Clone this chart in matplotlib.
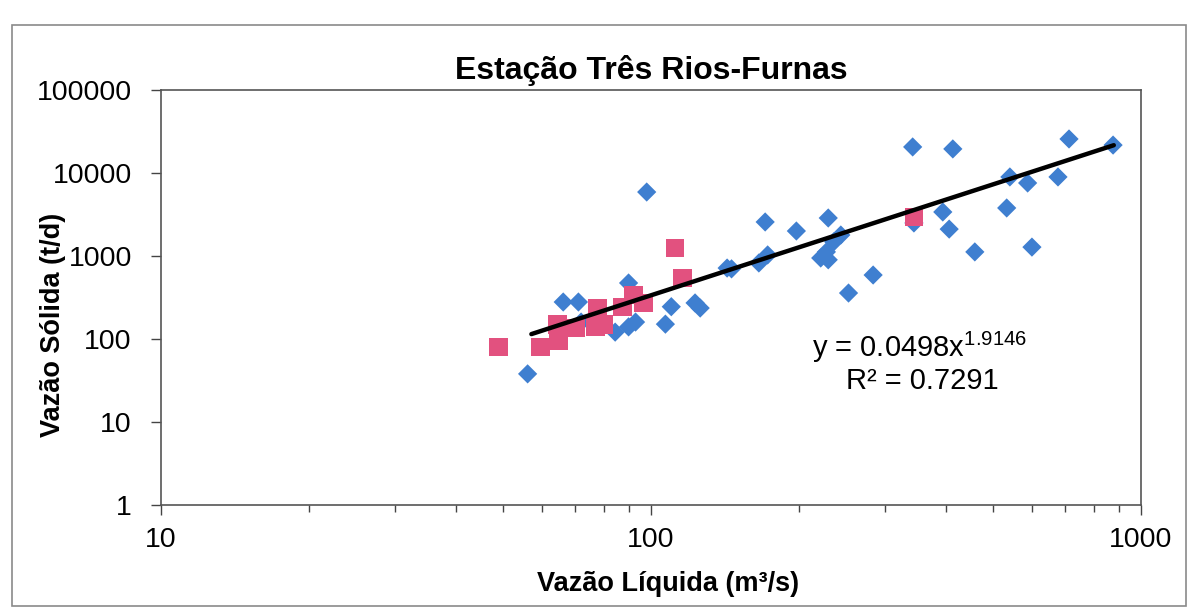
import matplotlib
matplotlib.use("Agg")
import matplotlib.pyplot as plt
from matplotlib.patches import Rectangle
import numpy as np

plt.rcParams['font.family'] = ['Liberation Sans', 'DejaVu Sans']
plt.rcParams['mathtext.fontset'] = 'custom'
plt.rcParams['mathtext.rm'] = 'Liberation Sans'

title = "Estação Três Rios-Furnas"
xlabel = "Vazão Líquida (m³/s)"
ylabel = "Vazão Sólida (t/d)"

# Blue diamonds series
blue_x = [342, 413, 713, 877, 540, 587, 677, 532, 394, 406, 344, 599, 458,
          284, 253, 171, 198, 230, 244, 236, 228, 222, 230, 173, 166, 143,
          146, 123, 126, 110, 107, 66.2, 71.1, 90, 93, 90, 84.5, 72, 56, 98]
blue_y = [20600, 19500, 25700, 21700, 8960, 7580, 8960, 3790, 3390, 2110,
          2500, 1280, 1120, 590, 358, 2570, 2000, 2870, 1790, 1480, 1120,
          946, 900, 1030, 824, 716, 700, 272, 236, 245, 151, 279, 279, 473,
          160, 140, 121, 160, 38, 5900]

# Pink squares series
pink_x = [48.8, 59.4, 64.4, 70.2, 64.7, 77.8, 77, 80, 87.5, 92, 96.5,
          112, 116, 344]
pink_y = [80, 80, 148, 136, 95, 236, 141, 150, 243, 339, 272,
          1250, 543, 2950]

# Power trendline y = a x^b
coef_a = 0.0498
coef_b = 1.9146
trend_xrange = [57, 880]
eq_text = "y = 0.0498x$^{1.9146}$"
r2_text = "R² = 0.7291"

yticks = [1, 10, 100, 1000, 10000, 100000]
xticks = [10, 100, 1000]

W, H = 1188, 616
fig = plt.figure(figsize=(W / 100, H / 100), dpi=100)

# outer chart frame
fig.patches.append(Rectangle((12 / W, 1 - 606 / H), (1186 - 12) / W, (606 - 25) / H,
                             transform=fig.transFigure, fill=False,
                             edgecolor='#8a8a8a', lw=1.2))

ax = fig.add_axes([161 / W, 1 - 505 / H, (1141 - 161) / W, (505 - 90) / H])
ax.set_xscale('log')
ax.set_yscale('log')
ax.set_xlim(10, 1000)
ax.set_ylim(1, 100000)

ax.scatter(blue_x, blue_y, marker='D', s=9.8 ** 2, color='#3f7fd0',
           edgecolors='none', zorder=3)
ax.scatter(pink_x, pink_y, marker='s', s=13.5 ** 2, color='#e2517f',
           edgecolors='none', zorder=4)

tx = np.logspace(np.log10(trend_xrange[0]), np.log10(trend_xrange[1]), 100)
ax.plot(tx, coef_a * tx ** coef_b, color='black', lw=3.2, zorder=5,
        solid_capstyle='round')

ax.set_yticks(yticks)
ax.set_yticklabels([str(v) for v in yticks])
ax.set_xticks(xticks)
ax.set_xticklabels([str(v) for v in xticks])
ax.yaxis.set_minor_locator(matplotlib.ticker.NullLocator())
ax.xaxis.set_minor_locator(matplotlib.ticker.LogLocator(base=10, subs=np.arange(2, 10)))
ax.xaxis.set_minor_formatter(matplotlib.ticker.NullFormatter())

ax.tick_params(axis='y', which='major', direction='out', length=7, width=1,
               labelsize=20.5, pad=14, color='#444444')
ax.tick_params(axis='x', which='major', direction='out', length=7, width=1,
               labelsize=20.5, pad=9, color='#444444')
ax.tick_params(axis='x', which='minor', direction='out', length=5, width=1,
               color='#444444')

for sp in ax.spines.values():
    sp.set_color('#555555')
    sp.set_linewidth(1.2)

ax.set_title(title, fontsize=23, fontweight='bold', pad=8)
ax.set_xlabel(xlabel, fontsize=19.5, fontweight='bold')
ax.set_ylabel(ylabel, fontsize=19.5, fontweight='bold')
inv = ax.transAxes.inverted()
# y label centre at ~ (53, 325) px, x label centre at ~ (668, 584) px
lx, ly = inv.transform(fig.transFigure.transform((53 / W, 1 - 325 / H)))
ax.yaxis.set_label_coords(lx, ly)
ax.yaxis.label.set_va('center')
mx, my = inv.transform(fig.transFigure.transform((668 / W, 1 - 584 / H)))
ax.xaxis.set_label_coords(mx, my)
ax.xaxis.label.set_va('center')

fig.text(920 / W, 1 - 347 / H, eq_text, fontsize=21, ha='center', va='center')
fig.text(922 / W, 1 - 381 / H, r2_text, fontsize=21, ha='center', va='center')

fig.savefig('out.png', dpi=100)
